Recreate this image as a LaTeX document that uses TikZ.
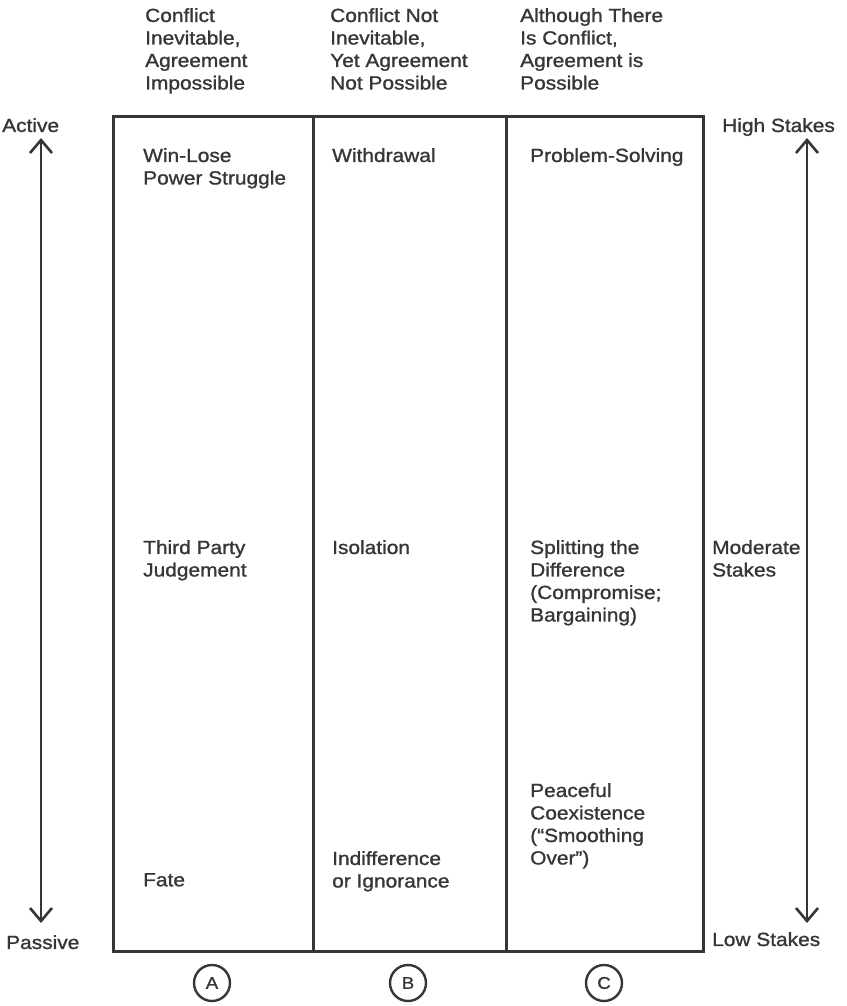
\documentclass[tikz,border=0pt]{standalone}
\usepackage{fontspec}
\setmainfont{Liberation Sans}[FakeStretch=1.1,FakeBold=1.2]
\usetikzlibrary{arrows.meta}
\definecolor{ink}{HTML}{363636}
\begin{document}
\begin{tikzpicture}[x=1pt,y=-1pt,
  lbl/.style={anchor=north west,inner sep=0pt,align=left,
              font=\fontsize{19}{22.5}\selectfont,text=ink},
  column/.style={draw=ink,line width=2.6pt,anchor=north west,inner sep=0pt,
                 minimum height=835pt},
  scalearrow/.style={draw=ink,line width=2.6pt,
                     {Straight Barb[length=13pt,width=22pt,line width=2.6pt]}-{Straight Barb[length=13pt,width=22pt,line width=2.6pt]}},
  badge/.style={circle,draw=ink,line width=2.4pt,minimum size=36pt,inner sep=0pt,
                text=ink,font=\fontsize{17}{17}\selectfont}]
\useasboundingbox (0,0) rectangle (846,1006);

% column headings
\node[lbl] (hA) at (145,8) {Conflict\\Inevitable,\\Agreement\\Impossible};
\node[lbl] (hB) at (330,8) {Conflict Not\\Inevitable,\\Yet Agreement\\Not Possible};
\node[lbl] (hC) at (520,8) {Although There\\Is Conflict,\\Agreement is\\Possible};

% the three columns
\node[column,minimum width=200pt] (colA) at (112,115) {};
\node[column,minimum width=193pt] (colB) at (312,115) {};
\node[column,minimum width=197pt] (colC) at (505,115) {};

% column A
\node[lbl] (a1) at (143,148) {Win-Lose\\Power Struggle};
\node[lbl] (a2) at (143,540) {Third Party\\Judgement};
\node[lbl] (a3) at (143,873) {Fate};

% column B
\node[lbl] (b1) at (332,148) {Withdrawal};
\node[lbl] (b2) at (332,540) {Isolation};
\node[lbl] (b3) at (332,851) {Indifference\\or Ignorance};

% column C
\node[lbl] (c1) at (530,148) {Problem-Solving};
\node[lbl] (c2) at (530,540) {Splitting the\\Difference\\(Compromise;\\Bargaining)};
\node[lbl] (c3) at (530,783) {Peaceful\\Coexistence\\(“Smoothing\\Over”)};

% left scale: activity
\node[lbl] (active) at (2,118) {Active};
\node[lbl] (passive) at (6,935) {Passive};
\coordinate (actTop) at (41,138);
\coordinate (actBot) at (41,923);
\draw[scalearrow] (actTop) -- (actBot);

% right scale: stakes
\node[lbl] (high) at (722,118) {High Stakes};
\node[lbl] (moderate) at (712,540) {Moderate\\Stakes};
\node[lbl] (low) at (712,932) {Low Stakes};
\coordinate (stkTop) at (807,138);
\coordinate (stkBot) at (807,923);
\draw[scalearrow] (stkTop) -- (stkBot);

% column markers
\node[badge] (mA) at (212,983) {A};
\node[badge] (mB) at (408,983) {B};
\node[badge] (mC) at (604,983) {C};
\end{tikzpicture}
\end{document}
